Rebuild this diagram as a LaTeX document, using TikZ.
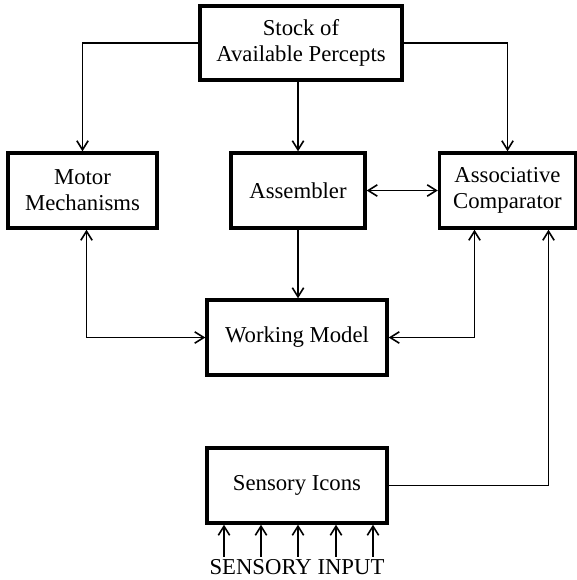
\documentclass[tikz,border=0pt]{standalone}
\usepackage{fontspec}
\setmainfont{Liberation Serif}
\usetikzlibrary{arrows.meta,calc,positioning}

\begin{document}
\begin{tikzpicture}[x=0.44pt,y=-0.44pt,>={Straight Barb[length=4pt,width=5pt]},
  box/.style={draw,line width=1.5pt,align=center,inner sep=0pt,
    font=\fontsize{10}{11.5}\selectfont},
  link/.style={line width=0.7pt}]
\useasboundingbox (0,0) rectangle (577,580);
\node[box,minimum width=202*0.44pt,minimum height=74*0.44pt] (stock) at (301,43) {Stock of\\Available Percepts};
\node[box,minimum width=149*0.44pt,minimum height=75*0.44pt] (motor) at (82.5,190.5) {Motor\\Mechanisms};
\node[box,minimum width=134*0.44pt,minimum height=75*0.44pt] (asm) at (298,190.5) {Assembler};
\node[box,minimum width=136*0.44pt,minimum height=75*0.44pt] (assoc) at (507.5,190.5) {Associative\\Comparator};
\node[box,minimum width=180*0.44pt,minimum height=75*0.44pt] (wm) at (297,337.5) {Working Model};
\node[box,minimum width=180*0.44pt,minimum height=75*0.44pt] (icons) at (297,485.5) {Sensory Icons};
\node[font=\fontsize{10}{12}\selectfont,inner sep=1pt] (input) at (297,567) {SENSORY INPUT};
% percepts feed three boxes
\draw[link,->] (stock.west) -| (motor.north);
\draw[link,->] (stock.south -| asm.north) -- (asm.north);
\draw[link,->] (stock.east) -| (assoc.north);
\draw[link,<->] (asm.east) -- (assoc.west);
\draw[link,->] (asm.south) -- (asm.south |- wm.north);
% loops to the working model
\draw[link,<->] ($(motor.south)+(4,0)$) |- (wm.west);
\draw[link,<->] ($(assoc.south)+(-33,0)$) |- (wm.east);
\draw[link,->] (icons.east) -| ($(assoc.south)+(41,0)$);
\foreach \dx in {-73,-36,1,39,76}
  \draw[link,->] ($(input.north)+(\dx,0)$) -- ($(icons.south)+(\dx,0)$);
\end{tikzpicture}
\end{document}
